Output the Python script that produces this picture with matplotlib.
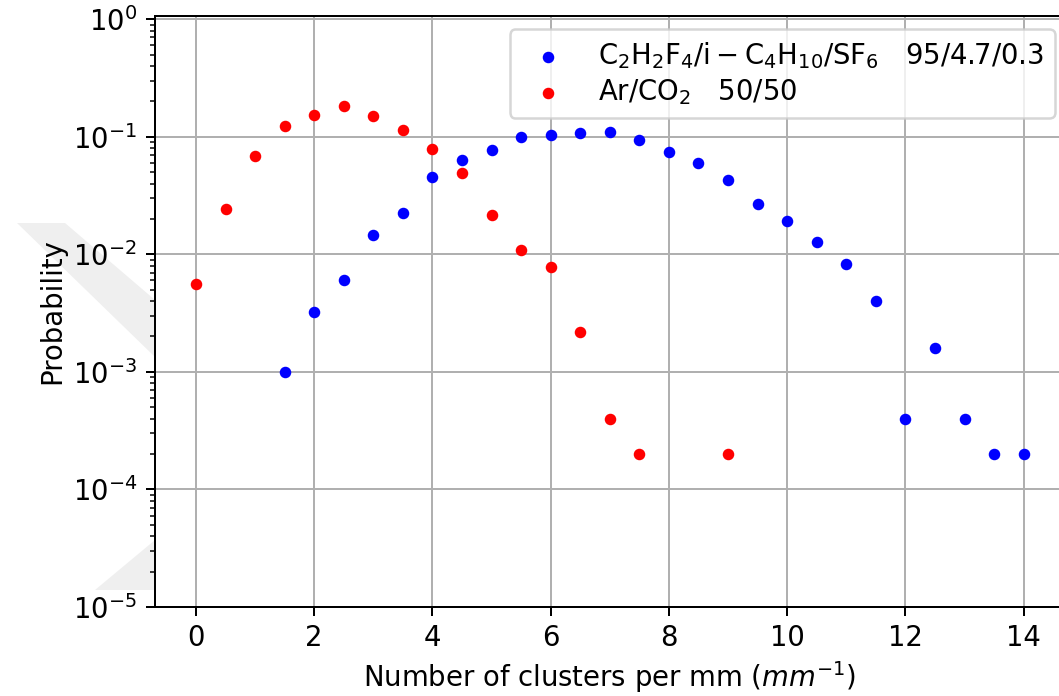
import matplotlib
matplotlib.use("Agg")
import matplotlib.pyplot as plt
from matplotlib.patches import Polygon

# cluster density distributions (probability per bin)
x_freon = [1.5, 2.0, 2.5, 3.0, 3.5, 4.0, 4.5, 5.0, 5.5, 6.0, 6.5, 7.0, 7.5,
           8.0, 8.5, 9.0, 9.5, 10.0, 10.5, 11.0, 11.5, 12.0, 12.5, 13.0, 13.5, 14.0]
p_freon = [0.001, 0.0032, 0.006, 0.0146, 0.0224, 0.0456, 0.0632, 0.0768, 0.1, 0.1044,
           0.1076, 0.1104, 0.0932, 0.0744, 0.0596, 0.0432, 0.0266, 0.0192, 0.0128,
           0.0082, 0.004, 0.0004, 0.0016, 0.0004, 0.0002, 0.0002]

x_argon = [0.0, 0.5, 1.0, 1.5, 2.0, 2.5, 3.0, 3.5, 4.0, 4.5, 5.0, 5.5, 6.0, 6.5,
           7.0, 7.5, 9.0]
p_argon = [0.0056, 0.0244, 0.0684, 0.1236, 0.1536, 0.1832, 0.1512, 0.1136, 0.0788,
           0.0496, 0.0218, 0.0108, 0.0078, 0.0022, 0.0004, 0.0002, 0.0002]

label_freon = r"$\mathrm{C_2H_2F_4/i-C_4H_{10}/SF_6}$   95/4.7/0.3"
label_argon = r"$\mathrm{Ar/CO_2}$   50/50"

plt.rcParams["font.size"] = 11

W, H = 1059, 696
fig = plt.figure(figsize=(W / 180, H / 180), dpi=180)

# faint watermark left over from the source page
def px(pts):
    return [(a / W, 1 - b / H) for a, b in pts]

for pts in ([(17, 223), (65, 223), (155, 300), (155, 357)],
            [(155, 540), (95, 590), (155, 590)]):
    fig.patches.append(Polygon(px(pts), closed=True, transform=fig.transFigure,
                               facecolor="#efefef", edgecolor="none", zorder=-5))

ax = fig.add_axes([154.6 / W, 1 - 607 / H, (1065 - 154.6) / W, (607 - 15.7) / H])

ax.scatter(x_freon, p_freon, s=13, color="blue", label=label_freon, zorder=3)
ax.scatter(x_argon, p_argon, s=13, color="red", label=label_argon, zorder=3)

ax.set_yscale("log")
ax.set_xlim(-0.7, 14.7)
ax.set_ylim(1e-5, 1.07)
ax.set_xticks([0, 2, 4, 6, 8, 10, 12, 14])
ax.grid(True)
ax.spines["right"].set_visible(False)

ax.set_xlabel(r"Number of clusters per mm ($mm^{-1}$)", labelpad=2.5)
ax.set_ylabel("Probability", labelpad=2.4)
ax.legend(loc="upper right", bbox_to_anchor=(1066 / 1065 + 0.003, 1.0),
          labelspacing=0.2)

fig.savefig("out.png", dpi=180)
